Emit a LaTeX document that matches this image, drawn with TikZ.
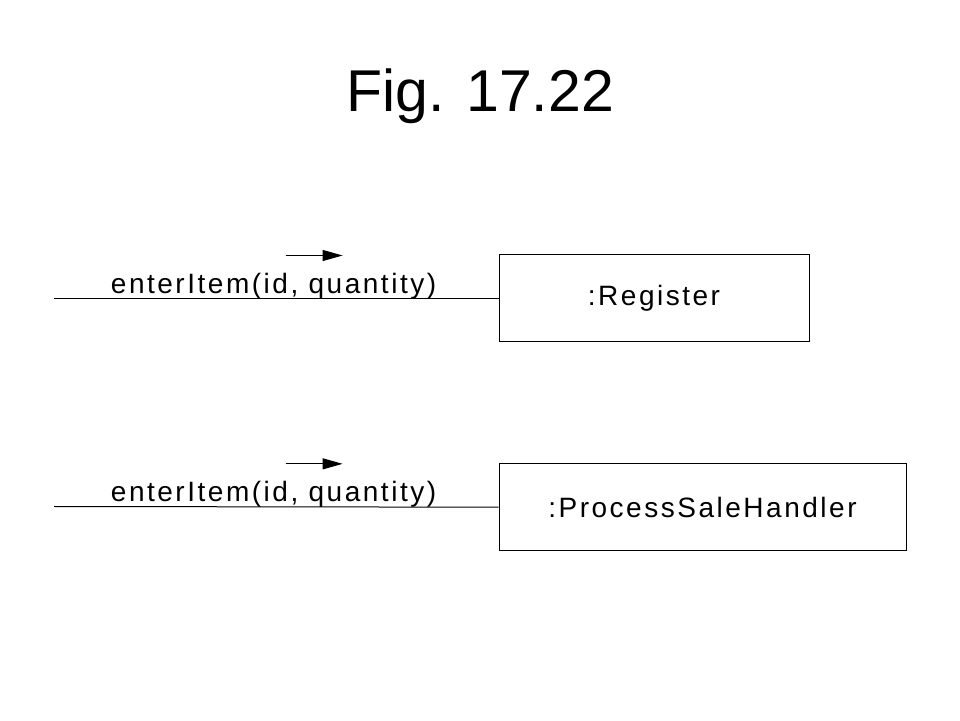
\documentclass[tikz,border=0pt]{standalone}
\usepackage{fontspec}
\setmainfont{Liberation Sans}
\newfontfamily\umlfont[LetterSpace=9]{Liberation Sans}
\usetikzlibrary{positioning,arrows.meta}
\tikzset{
	object/.style={draw, line width=1pt, minimum height=87pt, inner sep=0pt, font=\umlfont\fontsize{28}{34}\selectfont},
	msg/.style={font=\umlfont\fontsize{28}{34}\selectfont, inner sep=0pt, anchor=base, yshift=5pt},
	link/.style={line width=1pt},
	flow/.style={line width=1pt, -{Triangle[length=20pt,width=11pt]}}
}
\begin{document}
\begin{tikzpicture}[x=1pt,y=1pt]
	\useasboundingbox (0,0) rectangle (960,720);
	\node[font=\fontsize{59}{70}\selectfont, anchor=base] (title) at (480,608) {Fig. 17.22};
	\node[object, minimum width=310pt] (register) at (654,421.5) {:Register};
	\node[object, minimum width=407pt] (handler) [below right=121pt and 0pt of register.south west] {:ProcessSaleHandler};
	\coordinate (caller1) at (54,421.5);
	\coordinate (caller2) at (54,213.5);
	\draw[link] (caller1) -- node[msg, pos=.494] (msg1) {enterItem(id, quantity)} (register);
	\draw[link] (caller2) -- node[msg, pos=.494] (msg2) {enterItem(id, quantity)} (handler);
	\draw[flow] ([xshift=12pt, yshift=38pt]msg1.base) -- ++(57,0);
	\draw[flow] ([xshift=12pt, yshift=38pt]msg2.base) -- ++(57,0);
\end{tikzpicture}
\end{document}
